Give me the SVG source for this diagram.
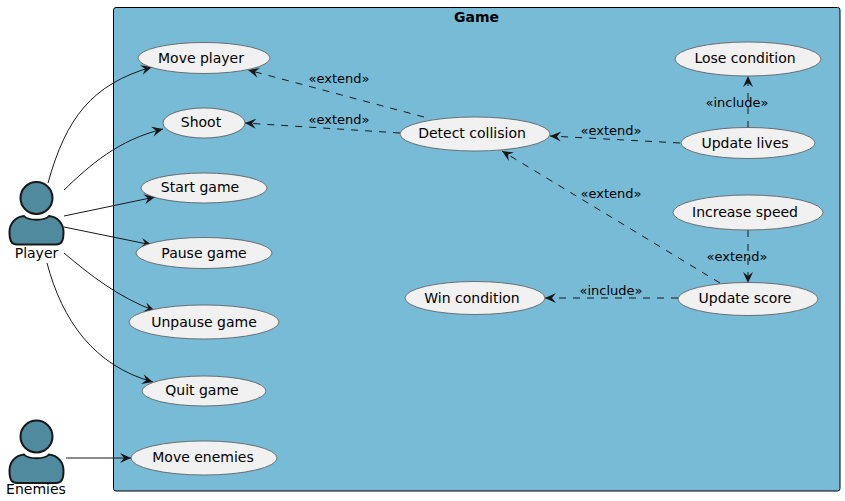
<svg xmlns="http://www.w3.org/2000/svg" width="845" height="501" viewBox="0 0 845 501">
<style>
text{font-family:"DejaVu Sans",sans-serif;font-size:14px;fill:#000}
.n{text-anchor:middle}
.u{fill:#F1F1F1;stroke:#555;stroke-width:.8}
.a{fill:#4F8A9F;stroke:#181818;stroke-width:2}
.c{fill:none;stroke:#181818;stroke-width:1}
.d{stroke-dasharray:7,7}
.l{font-size:13px;text-anchor:middle}
</style>
<defs>
<marker id="h" markerUnits="userSpaceOnUse" markerWidth="14" markerHeight="12" refX="11" refY="5" orient="auto" overflow="visible"><path d="M0,0L11,5L0,10L4,5Z" fill="#181818"/></marker>
<g id="person"><circle class="a" cx="36.500" cy="0" r="16"/><path class="a" d="M24,18C28,23 45,23 49,18C58,19 63.500,26 63.500,34C63.500,42 62,46.500 56,46.500L17,46.500C11,46.500 9.500,42 9.500,34C9.500,26 15,19 24,18Z"/></g>
</defs>
<g id="game"><rect x="113.500" y="7.500" width="726.500" height="483.500" rx="2.500" fill="#78BBD6" stroke="#000" stroke-width="1"/><text x="476.500" y="22" class="n" style="font-weight:bold">Game</text></g>
<g id="connectors">
<path class="c" marker-end="url(#h)" d="M48,183C66,118 92,84 152,67"/>
<path class="c" marker-end="url(#h)" d="M64,190C90,165 118,140 163,129"/>
<path class="c" marker-end="url(#h)" d="M64,216L155,197"/>
<path class="c" marker-end="url(#h)" d="M64,227L152,245"/>
<path class="c" marker-end="url(#h)" d="M64,253C90,275 118,297 155,311"/>
<path class="c" marker-end="url(#h)" d="M47,263C62,320 94,366 153,382"/>
<path class="c" marker-end="url(#h)" d="M66,458L131,458"/>
<path class="c d" marker-end="url(#h)" d="M424,117L248,70"/>
<path class="c d" marker-end="url(#h)" d="M400,133L245,123"/>
<path class="c d" marker-end="url(#h)" d="M680,143L550,136"/>
<path class="c d" marker-end="url(#h)" d="M720,283L502,151"/>
<path class="c d" marker-end="url(#h)" d="M678,298L545,298"/>
<path class="c d" marker-end="url(#h)" d="M748,128L748,76"/>
<path class="c d" marker-end="url(#h)" d="M748,230L748,283"/>
<text class="l" x="339" y="83">«extend»</text>
<text class="l" x="339" y="124">«extend»</text>
<text class="l" x="611" y="135">«extend»</text>
<text class="l" x="611" y="198">«extend»</text>
<text class="l" x="611" y="295">«include»</text>
<text class="l" x="737" y="107">«include»</text>
<text class="l" x="737" y="261">«extend»</text>
</g>
<g id="player"><use href="#person" y="198"/><text x="36.500" y="258" class="n">Player</text></g>
<g id="enemies"><use href="#person" y="436.500"/><text x="36" y="494" class="n">Enemies</text></g>
<g id="move-player"><ellipse class="u" cx="204" cy="58" rx="66" ry="15.500"/><text class="n" x="201" y="63">Move player</text></g>
<g id="shoot"><ellipse class="u" cx="204" cy="123" rx="41" ry="15"/><text class="n" x="201" y="127">Shoot</text></g>
<g id="start-game"><ellipse class="u" cx="204" cy="188" rx="63" ry="15"/><text class="n" x="200" y="192">Start game</text></g>
<g id="pause-game"><ellipse class="u" cx="204" cy="253" rx="68" ry="15.500"/><text class="n" x="204" y="258">Pause game</text></g>
<g id="unpause-game"><ellipse class="u" cx="204" cy="322" rx="75" ry="17"/><text class="n" x="204" y="327">Unpause game</text></g>
<g id="quit-game"><ellipse class="u" cx="204" cy="391" rx="62" ry="15"/><text class="n" x="202" y="395">Quit game</text></g>
<g id="move-enemies"><ellipse class="u" cx="204" cy="458" rx="73" ry="17"/><text class="n" x="203" y="462">Move enemies</text></g>
<g id="detect-collision"><ellipse class="u" cx="475" cy="134" rx="75" ry="17"/><text class="n" x="472" y="138">Detect collision</text></g>
<g id="win-condition"><ellipse class="u" cx="475" cy="298" rx="70" ry="16.500"/><text class="n" x="472" y="303">Win condition</text></g>
<g id="lose-condition"><ellipse class="u" cx="748" cy="59" rx="73" ry="17"/><text class="n" x="745" y="63">Lose condition</text></g>
<g id="update-lives"><ellipse class="u" cx="748" cy="143" rx="67" ry="15.500"/><text class="n" x="745" y="148">Update lives</text></g>
<g id="increase-speed"><ellipse class="u" cx="748" cy="212.500" rx="75" ry="17.500"/><text class="n" x="745" y="217">Increase speed</text></g>
<g id="update-score"><ellipse class="u" cx="748" cy="299" rx="70" ry="16.500"/><text class="n" x="745" y="303">Update score</text></g>
</svg>
